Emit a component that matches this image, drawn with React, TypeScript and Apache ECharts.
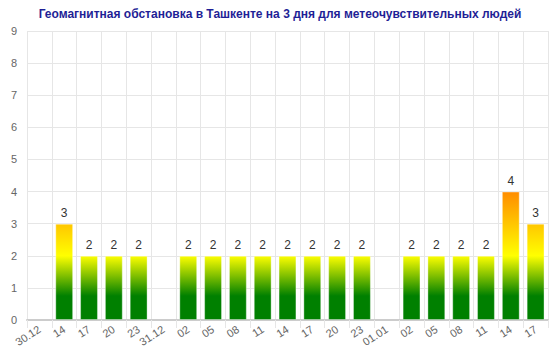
import React, { useEffect, useRef } from "react";
import * as echarts from "echarts";

const categories = [
  "30.12", "14", "17", "20", "23",
  "31.12", "02", "05", "08", "11", "14", "17", "20", "23",
  "01.01", "02", "05", "08", "11", "14", "17",
];
const values: (number | null)[] = [
  null, 3, 2, 2, 2,
  null, 2, 2, 2, 2, 2, 2, 2, 2,
  null, 2, 2, 2, 2, 4, 3,
];
const yTicks = { min: 0, max: 9, interval: 1 };
const titleText = "Геомагнитная обстановка в Ташкенте на 3 дня для метеочувствительных людей";

const GRID = { left: 27, right: 12, top: 31, bottom: 32 };
const W = 560;
const H = 352;

export default function App() {
  const ref = useRef<HTMLDivElement>(null);
  useEffect(() => {
    if (!ref.current) return;
    const chart = echarts.init(ref.current, undefined, { renderer: "svg" });
    const y0 = H - GRID.bottom;
    const y1 = GRID.top;
    const span = yTicks.max - yTicks.min;
    const grad = new echarts.graphic.LinearGradient(
      0, y0, 0, y1,
      [
        { offset: 0, color: "#008000" },
        { offset: 0.75 / span, color: "#008000" },
        { offset: 2 / span, color: "#ffff00" },
        { offset: 4 / span, color: "#ff8c00" },
        { offset: 6 / span, color: "#ff0000" },
        { offset: 1, color: "#8b0000" },
      ],
      true
    );
    chart.setOption({
      animation: false,
      title: {
        text: titleText,
        left: "center",
        top: 3,
        textStyle: {
          fontFamily: "Liberation Sans, Arial, sans-serif",
          fontSize: 12,
          fontWeight: "bold",
          color: "#1f1f96",
        },
      },
      grid: { ...GRID, containLabel: false },
      xAxis: {
        type: "category",
        data: categories,
        boundaryGap: true,
        axisLine: { lineStyle: { color: "#cccccc", width: 2 } },
        axisTick: { show: true, length: 8, lineStyle: { color: "#e6e6e6" } },
        splitLine: { show: true, lineStyle: { color: "#e6e6e6" } },
        axisLabel: {
          interval: 0,
          rotate: 33,
          color: "#666666",
          fontSize: 11,
          margin: 8,
          fontFamily: "Liberation Sans, Arial, sans-serif",
        },
      },
      yAxis: {
        type: "value",
        min: yTicks.min,
        max: yTicks.max,
        interval: yTicks.interval,
        axisLine: { show: false },
        axisTick: { show: false },
        splitLine: { lineStyle: { color: "#e6e6e6" } },
        axisLabel: {
          color: "#666666",
          fontSize: 11,
          margin: 10,
          fontFamily: "Liberation Sans, Arial, sans-serif",
        },
      },
      series: [
        {
          type: "bar",
          data: values,
          barWidth: "72%",
          itemStyle: {
            color: grad,
            borderColor: "rgba(255,255,255,0.35)",
            borderWidth: 1,
          },
          label: {
            show: true,
            position: "top",
            distance: 5,
            color: "#333333",
            fontSize: 12,
            fontFamily: "Liberation Sans, Arial, sans-serif",
          },
        },
      ],
    });
    return () => chart.dispose();
  }, []);
  return (
    <div
      ref={ref}
      style={{ position: "fixed", left: 0, top: 0, width: W, height: H, background: "#fff" }}
    />
  );
}
